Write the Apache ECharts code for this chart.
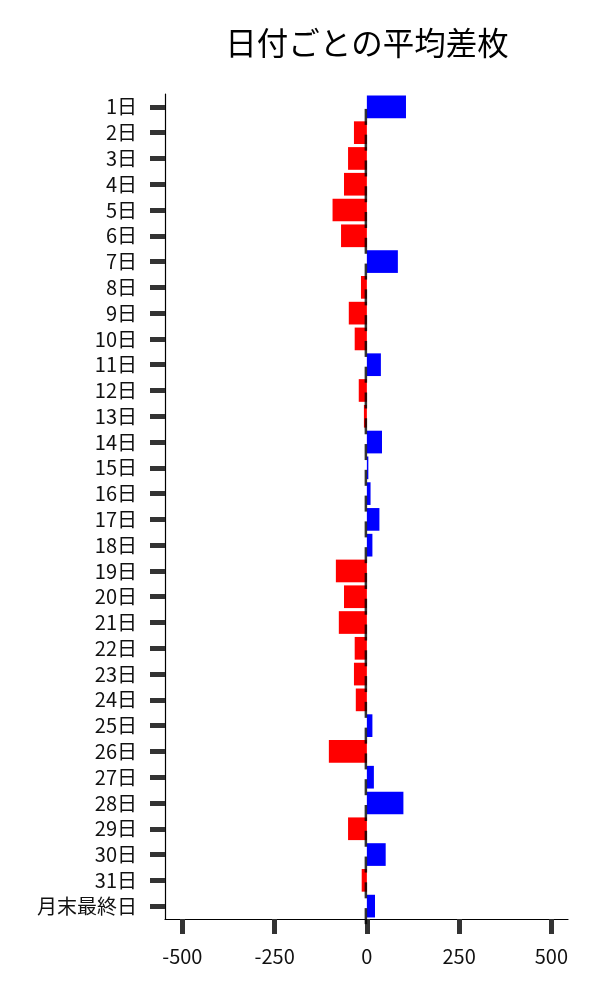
<!DOCTYPE html>
<html>
<head>
<meta charset="utf-8">
<script src="https://cdn.jsdelivr.net/npm/echarts@6/dist/echarts.min.js"></script>
<style>html,body{margin:0;padding:0;background:#fff}#c{width:600px;height:1000px}</style>
</head>
<body>
<div id="c"></div>
<script>
const categories = ['1日','2日','3日','4日','5日','6日','7日','8日','9日','10日','11日','12日','13日','14日','15日','16日','17日','18日','19日','20日','21日','22日','23日','24日','25日','26日','27日','28日','29日','30日','31日','月末最終日'];
const values = [106,-35,-51,-62,-93,-70,84,-16,-49,-33,38,-22,-8,41,4,10,34,15,-84,-62,-76,-33,-35,-30,15,-103,19,99,-51,51,-14,22];
const errCenters = [0,0,0,0,0,0,0,0,0,0,0,0,0,0,0,0,0,0,0,0,0,0,0,0,0,0,0,0,0,0,0,0];
const xTicks = [-500,-250,0,250,500];
const titleText = '日付ごとの平均差枚';

const chart = echarts.init(document.getElementById('c'), null, {renderer:'canvas'});
const font = '"Noto Sans CJK JP", "Noto Sans", sans-serif';
chart.setOption({
  animation: false,
  backgroundColor: '#fff',
  title: {
    text: titleText, left: 362, top: 22, textAlign: 'center',
    textStyle: {fontFamily: font, fontSize: 31.5, fontWeight: 'normal', color: '#000'}
  },
  grid: {left: 165, right: 32, top: 94, bottom: 81, containLabel: false},
  xAxis: {
    type: 'value', min: -547, max: 545,
    axisLine: {show: true, onZero: false, lineStyle: {color: '#000', width: 1.2}},
    axisTick: {show: true, length: 15, customValues: xTicks, lineStyle: {color: '#333', width: 5}},
    axisLabel: {customValues: xTicks, margin: 27, fontFamily: font, fontSize: 20, color: '#111'},
    splitLine: {show: false}
  },
  yAxis: {
    type: 'category', data: categories, inverse: true,
    axisLine: {show: true, onZero: false, lineStyle: {color: '#000', width: 1.2}},
    axisTick: {show: true, alignWithLabel: true, length: 15, lineStyle: {color: '#333', width: 5}},
    axisLabel: {margin: 28, fontFamily: font, fontSize: 20, color: '#111', interval: 0},
    splitLine: {show: false}
  },
  series: [
    {
      type: 'bar', data: values.map(v => ({value: v, itemStyle: {color: v >= 0 ? '#0000ff' : '#ff0000'}})),
      barCategoryGap: '12%'
    },
    {
      type: 'scatter', data: errCenters.map((v, i) => [v, categories[i]]),
      symbol: 'rect', symbolSize: [2.5, 16], symbolOffset: [-1, 10],
      itemStyle: {color: '#000'}, z: 5
    }
  ]
});
</script>
</body>
</html>
